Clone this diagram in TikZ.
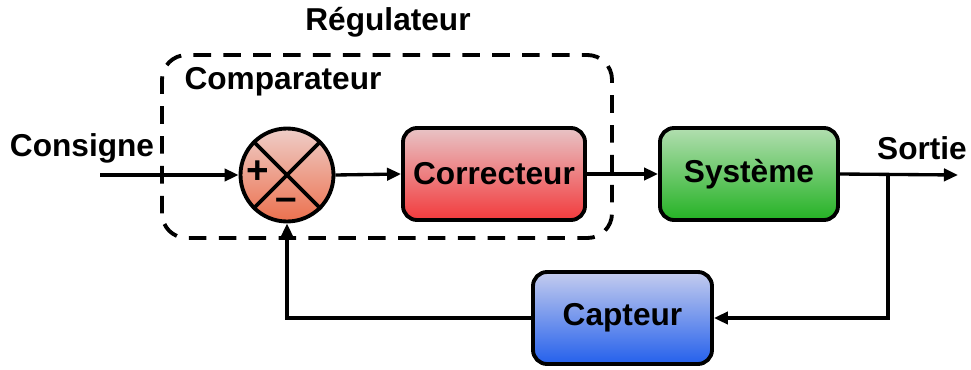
\documentclass[tikz,border=0pt]{standalone}
\usepackage{fontspec}
\setmainfont{Liberation Sans}
\usetikzlibrary{arrows.meta}

\definecolor{corrtop}{RGB}{232,196,198}
\definecolor{corrbot}{RGB}{242,58,60}
\definecolor{systop}{RGB}{178,222,176}
\definecolor{sysbot}{RGB}{36,178,36}
\definecolor{captop}{RGB}{196,204,238}
\definecolor{capbot}{RGB}{36,96,236}
\definecolor{sumtop}{RGB}{238,206,200}
\definecolor{sumbot}{RGB}{236,112,78}

\begin{document}
\begin{tikzpicture}[line width=1.9pt, font=\bfseries\fontsize{18}{20}\selectfont,
  bloc/.style={draw, line width=2.2pt, rounded corners=8pt, minimum width=3.56cm, minimum height=1.84cm},
  fleche/.style={-{Triangle[length=8pt,width=7pt]}}]
  \useasboundingbox (0,0) rectangle (19.42,7.38);
  % regulateur (dashed frame)
  \draw[dashed, dash pattern=on 10pt off 7pt, line width=2.2pt, rounded corners=14pt]
    (3.24,2.62) rectangle (12.24,6.28);
  \node (reg) at (7.76,6.94) {Régulateur};
  \node (comp) at (5.66,5.74) {Comparateur};
  % comparateur
  \node (s) at (5.74,3.88) [draw, line width=2.2pt, circle, minimum size=1.86cm, inner sep=0pt,
    top color=sumtop, bottom color=sumbot] {};
  \draw[line width=2.2pt] (s.north east) to (s.south west);
  \draw[line width=2.2pt] (s.north west) to (s.south east);
  \node (plus) at (5.16,3.94) {\fontsize{22}{22}\selectfont +};
  \node (moins) at (5.72,3.30) {\fontsize{22}{22}\selectfont --};
  % blocs
  \node (C) at (9.88,3.90) [bloc, minimum width=3.64cm, top color=corrtop, bottom color=corrbot] {Correcteur};
  \node (S) at (14.98,3.90) [bloc, top color=systop, bottom color=sysbot] {Système};
  \node (K) at (12.45,1.02) [bloc, minimum width=3.58cm, top color=captop, bottom color=capbot] {Capteur};
  % entree / sortie
  \node (e) at (1.64,4.42) {Consigne};
  \node (o) at (18.44,4.42) {Sortie};
  \coordinate (in) at (2.0,3.88);
  \coordinate (out) at (19.16,3.88);
  \coordinate (b) at (17.76,3.88);
  \draw[fleche] (in) to (s.west);
  \draw[fleche] (s.east) to (C.west);
  \draw[fleche] (C.east) to (S.west |- C.east);
  \draw[fleche] (S.east) to (out);
  % retour
  \draw[fleche] (b) |- (K.east);
  \draw[fleche] (K.west) -| (s.south);
\end{tikzpicture}
\end{document}
